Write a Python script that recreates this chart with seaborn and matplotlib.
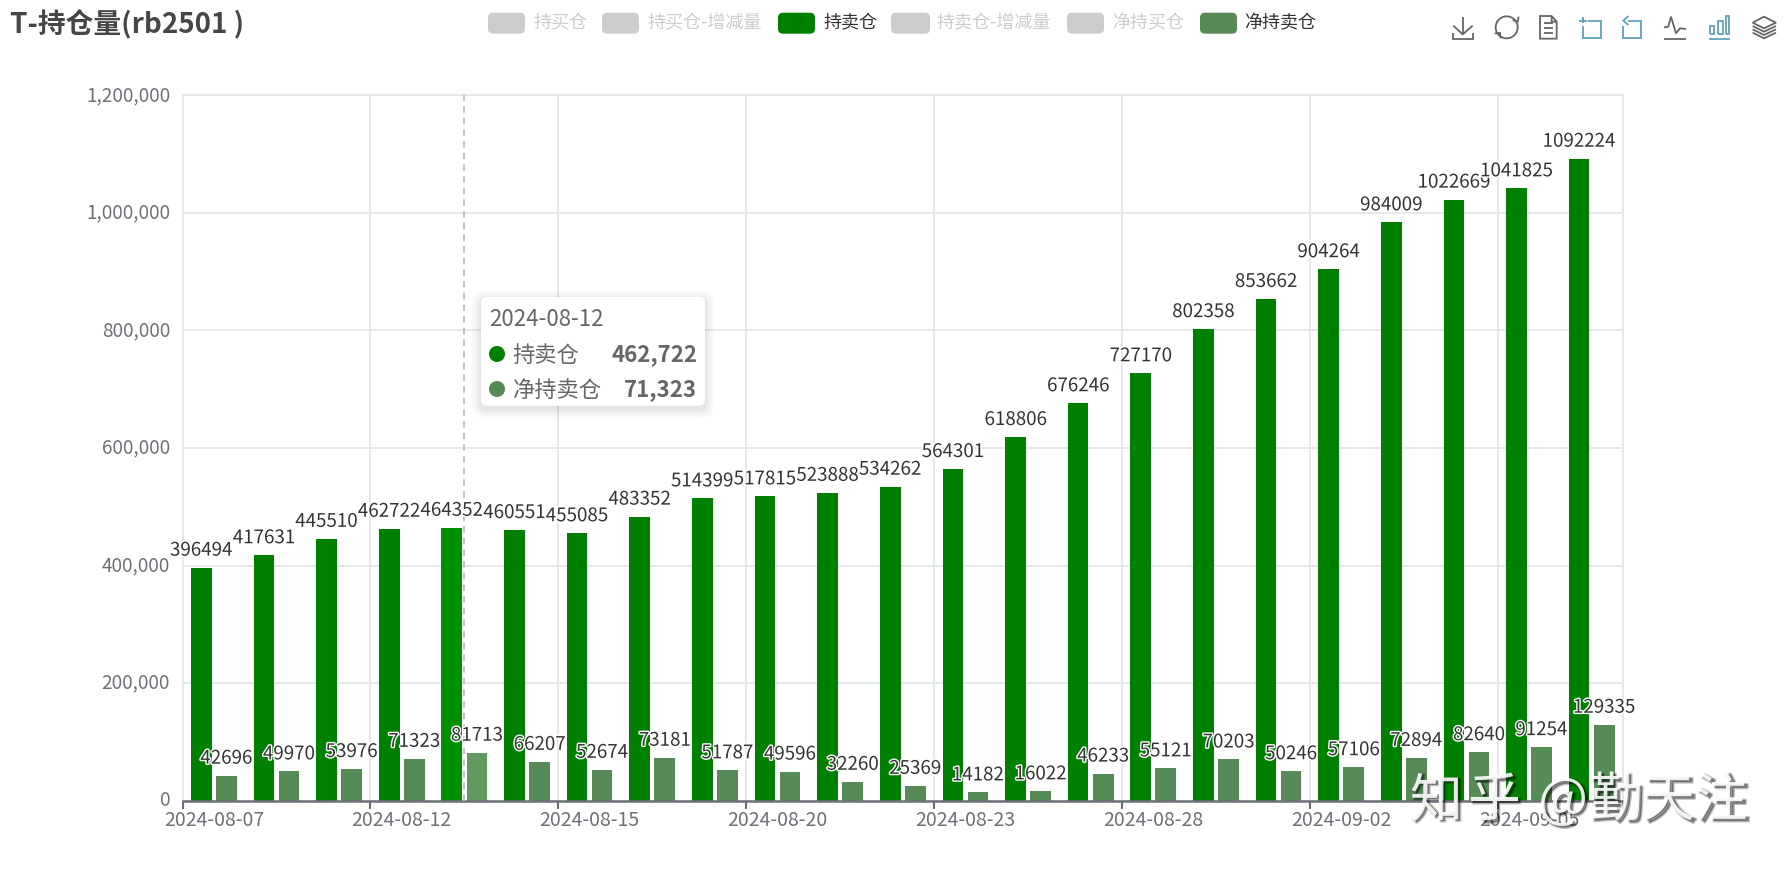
import numpy as np
import pandas as pd
import matplotlib
matplotlib.use("Agg")
import matplotlib.pyplot as plt
import matplotlib.patheffects as pe
from matplotlib.lines import Line2D
from matplotlib.patches import FancyBboxPatch
from matplotlib.ticker import StrMethodFormatter
from matplotlib.transforms import ScaledTranslation, Affine2D
import seaborn as sns

dates = ["2024-08-07","2024-08-08","2024-08-09","2024-08-12","2024-08-13","2024-08-14","2024-08-15","2024-08-16",
         "2024-08-19","2024-08-20","2024-08-21","2024-08-22","2024-08-23","2024-08-26","2024-08-27","2024-08-28",
         "2024-08-29","2024-08-30","2024-09-02","2024-09-03","2024-09-04","2024-09-05","2024-09-06"]
short_pos = [396494,417631,445510,462722,464352,460551,455085,483352,514399,517815,523888,534262,564301,618806,
             676246,727170,802358,853662,904264,984009,1022669,1041825,1092224]
net_short = [42696,49970,53976,71323,81713,66207,52674,73181,51787,49596,32260,25369,14182,16022,46233,55121,
             70203,50246,57106,72894,82640,91254,129335]
yticks = [0,200000,400000,600000,800000,1000000,1200000]
legend_names = ["持买仓","持买仓-增减量","持卖仓","持卖仓-增减量","净持买仓","净持卖仓"]
GREEN, LIGHT = "#008000", "#568b57"
GREY = "#6e7079"
GRID = "#e3e7ea"

W, H = 1792, 875
sns.set_theme(style="white")
plt.rcParams["font.family"] = ["Noto Sans CJK SC", "DejaVu Sans"]
plt.rcParams["axes.unicode_minus"] = False

fig = plt.figure(figsize=(W/100, H/100), dpi=100, facecolor="white")
ax = fig.add_axes([182.5/W, 1-800.7/H, (1623-182.5)/W, (800.7-95.3)/H])

df = pd.DataFrame({
    "date": dates*2,
    "value": short_pos+net_short,
    "series": ["持卖仓"]*len(dates)+["净持卖仓"]*len(dates),
})
sns.barplot(data=df, x="date", y="value", hue="series", hue_order=["持卖仓","净持卖仓"],
            palette=[GREEN, LIGHT], saturation=1, width=0.8, gap=0.175, legend=False, ax=ax, zorder=2,
            linewidth=0, edgecolor="none")

# hovered category is slightly brighter
hover = 4
ax.containers[0][hover].set_facecolor("#008f00")
ax.containers[1][hover].set_facecolor("#62995f")

for c in ax.containers:
    ax.bar_label(c, fmt="%d", padding=5, fontsize=13.5, color="#333333",
                 path_effects=[pe.withStroke(linewidth=2, foreground="white")], zorder=6)

n = len(dates)
ax.set_xlim(-0.5, n-0.5)
ax.set_ylim(0, 1200000)
ax.set_xlabel(""); ax.set_ylabel("")
ax.set_yticks(yticks)
ax.yaxis.set_major_formatter(StrMethodFormatter("{x:,.0f}"))
major = list(range(0, n, 3))
ax.set_xticks(major, [dates[i] for i in major])
boundaries = [i-0.5 for i in major]+[n-0.5]
ax.set_xticks(boundaries, minor=True)
ax.tick_params(axis="x", which="major", length=0, labelsize=14, labelcolor=GREY, pad=7)
ax.tick_params(axis="x", which="minor", length=6, width=1.5, color=GREY, bottom=True)
ax.tick_params(axis="y", length=0, labelsize=13.6, labelcolor=GREY, pad=9)
up = ScaledTranslation(0, 2.5/100, fig.dpi_scale_trans)
for lab in ax.get_yticklabels():
    lab.set_transform(lab.get_transform()+up)
ax.set_axisbelow(True)
ax.grid(axis="y", color=GRID, lw=1.3)
ax.grid(axis="x", which="minor", color=GRID, lw=1.3)
ax.grid(axis="x", which="major", visible=False)
for s in ["top","right","left"]:
    ax.spines[s].set_color(GRID); ax.spines[s].set_linewidth(1.3)
ax.spines["bottom"].set_color(GREY); ax.spines["bottom"].set_linewidth(1.8)
ax.axvline(hover, color="#b8b8b8", ls=(0,(4,3)), lw=1.2, zorder=5)

# helpers in pixel coordinates of the figure
def P(x, y):
    return x/W, 1-y/H
def T(x, y, s, **kw):
    fx, fy = P(x, y)
    return fig.text(fx, fy, s, **kw)
def box(x0, y0, x1, y1, r, **kw):
    p = FancyBboxPatch((x0, H-y1), x1-x0, y1-y0, boxstyle=f"round,pad=0,rounding_size={r}",
                       transform=Affine2D().scale(1/W, 1/H)+fig.transFigure, **kw)
    fig.add_artist(p)
    return p
def L(pts, color="#666666", lw=1.3, z=8):
    xs = [p[0]/W for p in pts]; ys = [1-p[1]/H for p in pts]
    fig.add_artist(Line2D(xs, ys, transform=fig.transFigure, color=color, lw=lw, zorder=z,
                          solid_joinstyle="miter", solid_capstyle="butt"))

# title
T(10, 25, "T-持仓量(rb2501 )", fontsize=20, fontweight="bold", color="#464646", va="center", ha="left", zorder=8)

# legend
rects = [(488,525,533),(602,639,647),(778,815,823),(891,930,936),(1067,1104,1112),(1200,1237,1244)]
active = {"持卖仓": GREEN, "净持卖仓": LIGHT}
for name, (x0, x1, tx) in zip(legend_names, rects):
    on = name in active
    box(x0, 12.7, x1, 33.7, 5, fc=active.get(name, "#cccccc"), ec="none", zorder=8)
    T(tx, 23, name, fontsize=13, color="#333333" if on else "#cccccc", va="center", ha="left", zorder=8)

# tooltip
for i, a in zip(range(10, 0, -2), [0.012, 0.015, 0.02, 0.025, 0.03]):
    box(481-i, 297-i+3, 705+i, 405.7+i+3, 5+i, fc="black", ec="none", alpha=a, zorder=9)
box(481, 297, 705, 405.7, 6, fc="white", ec="none", zorder=10)
T(489, 319, dates[3], fontsize=16, color="#666666", va="center", ha="left", zorder=11)
for y, name, col, val in [(355, "持卖仓", GREEN, short_pos[3]), (390, "净持卖仓", LIGHT, net_short[3])]:
    fig.add_artist(matplotlib.patches.Ellipse(P(497, y-1), 16/W, 16/H, transform=fig.transFigure, fc=col, ec="none", zorder=11))
    T(512.5, y, name, fontsize=16, color="#666666", va="center", ha="left", zorder=11)
    T(697, y, f"{val:,}", fontsize=16, fontweight="bold", color="#666666", va="center", ha="right", zorder=11)

# toolbox icons (coordinates from a 3x crop starting at 1440,5)
def Z(pts):
    return [(1440+x/3, 5+y/3) for x, y in pts]
TEAL, IC = "#5fa3bb", "#666666"
L(Z([(68,35),(68,88)]), IC); L(Z([(40,62),(68,88),(98,62)]), IC); L(Z([(38,85),(38,101),(98,101),(98,85)]), IC)
t = np.radians(np.linspace(-35, 150, 30))
L(Z([(200+33*np.cos(a), 67-33*np.sin(a)) for a in t]), IC)
L(Z([(200+33*np.cos(a+np.pi), 67-33*np.sin(a+np.pi)) for a in t]), IC)
L(Z([(218,45),(233,50),(236,35)]), IC); L(Z([(164,85),(180,84),(182,100)]), IC)
L(Z([(335,33),(300,33),(300,101),(350,101),(350,50),(335,33),(335,50),(350,50)]), IC)
for y in (55,70,85):
    L(Z([(312,y),(338,y)]), IC)
L(Z([(445,47),(484,47),(484,100),(430,100),(430,62)]), TEAL); L(Z([(430,35),(430,55)]), TEAL); L(Z([(418,47),(442,47)]), TEAL)
L(Z([(565,47),(604,47),(604,100),(550,100),(550,62)]), TEAL); L(Z([(565,33),(550,47),(565,60)]), TEAL)
L(Z([(672,101),(738,101)]), IC); L(Z([(672,67),(685,65),(693,35),(708,85),(720,70),(738,72)]), IC)
for x0, x1, y0 in [(810,823,62),(835,848,47),(858,868,32)]:
    L(Z([(x0,88),(x0,y0),(x1,y0),(x1,88),(x0,88)]), TEAL)
L(Z([(808,101),(870,101)]), TEAL)
L(Z([(972,35),(1008,53),(972,70),(938,53),(972,35)]), IC)
for d in (10,20,30):
    L(Z([(938,53+d),(972,70+d),(1008,53+d)]), IC)

# watermark
for x, s in [(1436, "知"), (1494, "乎"), (1563, "@"), (1669, "勤天注")]:
    T(x+2.5, 803, s, fontsize=38, color="#000000", alpha=0.24, ha="center", va="center", zorder=12,
      path_effects=[pe.withStroke(linewidth=2, foreground="#000000", alpha=0.24)])
    T(x, 801, s, fontsize=38, color="white", ha="center", va="center", zorder=13, alpha=0.9)

fig.savefig("out.png", dpi=100, facecolor="white")
